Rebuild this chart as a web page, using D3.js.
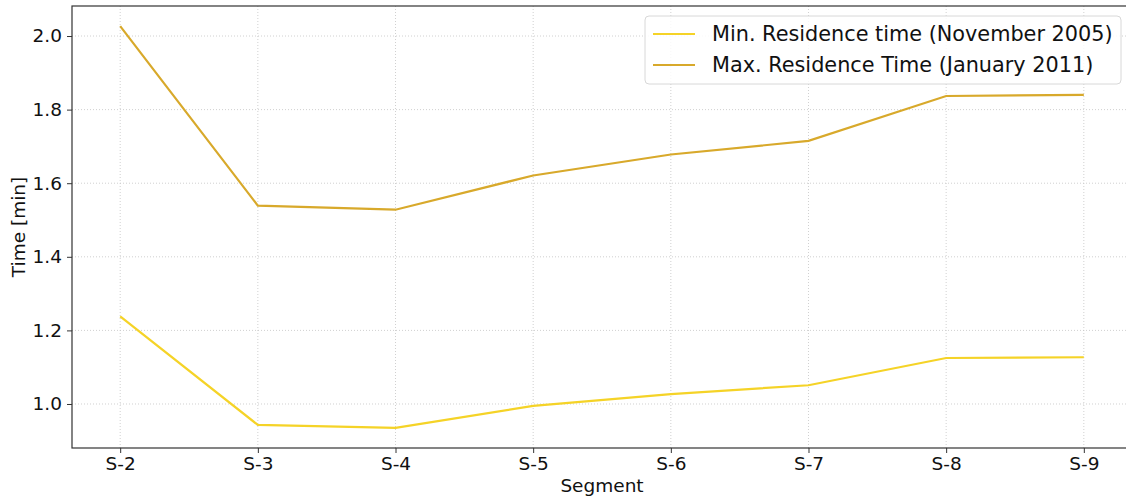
<!DOCTYPE html>
<html>
<head>
<meta charset="utf-8">
<script src="https://cdn.jsdelivr.net/npm/d3@7"></script>
<style>
  body { margin: 0; background: #fff; }
  svg { display: block; font-family: "DejaVu Sans", sans-serif; }
</style>
</head>
<body>
<svg id="chart" width="1126" height="499"></svg>
<script>
const segments = ["S-2", "S-3", "S-4", "S-5", "S-6", "S-7", "S-8", "S-9"];
const minTime = [1.238, 0.943, 0.935, 0.995, 1.027, 1.051, 1.125, 1.127];
const maxTime = [2.027, 1.539, 1.528, 1.621, 1.678, 1.715, 1.837, 1.840];
const yTicks = [1.0, 1.2, 1.4, 1.6, 1.8, 2.0];
const seriesNames = ["Min. Residence time (November 2005)", "Max. Residence Time (January 2011)"];
const seriesColors = ["#f5d327", "#d8a92b"];

const svg = d3.select("#chart");
const m = {left: 72, right: -6, top: 6, bottom: 51};
const W = 1126, H = 499;
const fs = 18.5;

// matplotlib style 5% margins
const x = d3.scaleLinear()
    .domain([-0.35, segments.length - 1 + 0.35])
    .range([m.left, W - m.right]);
const lo = d3.min(minTime), hi = d3.max(maxTime), pad = (hi - lo) * 0.05;
const y = d3.scaleLinear()
    .domain([lo - pad, hi + pad])
    .range([H - m.bottom, m.top]);

// grid
const grid = svg.append("g");
grid.selectAll(".gx").data(segments).enter().append("line")
    .attr("x1", (d, i) => x(i)).attr("x2", (d, i) => x(i))
    .attr("y1", m.top).attr("y2", H - m.bottom)
    .attr("stroke", "#c4c4c4").attr("stroke-width", 0.8).attr("stroke-dasharray", "1,2");
grid.selectAll(".gy").data(yTicks).enter().append("line")
    .attr("x1", m.left).attr("x2", W - m.right)
    .attr("y1", d => y(d)).attr("y2", d => y(d))
    .attr("stroke", "#c4c4c4").attr("stroke-width", 0.8).attr("stroke-dasharray", "1,2");

// lines
const line = d3.line().x((d, i) => x(i)).y(d => y(d));
[minTime, maxTime].forEach((s, k) => {
  svg.append("path").datum(s)
    .attr("d", line)
    .attr("fill", "none")
    .attr("stroke", seriesColors[k])
    .attr("stroke-width", 2.2);
});

// axes
const xAxis = d3.axisBottom(x)
    .tickValues(d3.range(segments.length))
    .tickFormat(i => segments[i])
    .tickSize(5).tickPadding(4);
const gx = svg.append("g").attr("transform", `translate(0,${H - m.bottom})`).call(xAxis);
const yAxis = d3.axisLeft(y).tickValues(yTicks).tickFormat(d3.format(".1f")).tickSize(5).tickPadding(5);
const gy = svg.append("g").attr("transform", `translate(${m.left},0)`).call(yAxis);
[gx, gy].forEach(g => {
  g.select(".domain").remove();
  g.selectAll("line").attr("stroke", "#333");
  g.selectAll("text").attr("font-size", fs).attr("fill", "#111").attr("font-family", "DejaVu Sans");
});

// spines
svg.append("rect")
    .attr("x", m.left).attr("y", m.top)
    .attr("width", W - m.right - m.left).attr("height", H - m.bottom - m.top)
    .attr("fill", "none").attr("stroke", "#333").attr("stroke-width", 1.2);

// axis labels
svg.append("text").attr("x", (m.left + W - m.right) / 2).attr("y", 492)
    .attr("text-anchor", "middle").attr("font-size", fs).attr("fill", "#111").text("Segment");
svg.append("text").attr("transform", `translate(25,${(m.top + H - m.bottom) / 2}) rotate(-90)`)
    .attr("text-anchor", "middle").attr("font-size", fs).attr("fill", "#111").text("Time [min]");

// legend
const lg = svg.append("g").attr("transform", "translate(645,16)");
lg.append("rect").attr("width", 476).attr("height", 68).attr("rx", 4)
    .attr("fill", "#fff").attr("fill-opacity", 0.85).attr("stroke", "#d8d8d8");
seriesNames.forEach((name, k) => {
  const yy = 18 + k * 31;
  lg.append("line").attr("x1", 8).attr("x2", 50).attr("y1", yy).attr("y2", yy)
    .attr("stroke", seriesColors[k]).attr("stroke-width", 2.2);
  lg.append("text").attr("x", 67).attr("y", yy).attr("dy", "0.35em")
    .attr("font-size", 20.8).attr("fill", "#111").text(name);
});
</script>
</body>
</html>
